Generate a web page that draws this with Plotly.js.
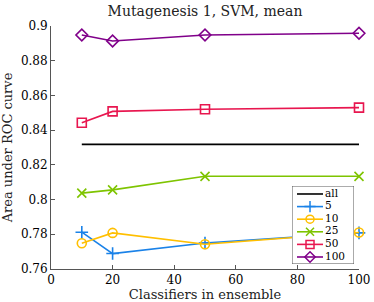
<!DOCTYPE html>
<html><head><meta charset="utf-8">
<script src="https://cdn.plot.ly/plotly-3.0.1.min.js"></script>
<style>html,body{margin:0;padding:0;background:#fff}#c{width:374px;height:302px}</style>
</head><body><div id="c"></div>
<script>
const classifiers = [10, 20, 50, 100];
const seriesNames = ['5', '10', '25', '50', '100'];
const s5   = [0.7812, 0.7689, 0.7750, 0.7808];
const s10  = [0.7748, 0.7808, 0.7743, 0.7810];
const s25  = [0.8037, 0.8056, 0.8134, 0.8134];
const s50  = [0.8443, 0.8508, 0.8520, 0.8530];
const s100 = [0.8948, 0.8914, 0.8948, 0.8958];
const allValue = 0.8318;
const allX = [10, 100];
const xTicks = [0, 20, 40, 60, 80, 100];
const yTicks = [0.76, 0.78, 0.8, 0.82, 0.84, 0.86, 0.88, 0.9];
const yTickText = ['0.76', '0.78', '0.8', '0.82', '0.84', '0.86', '0.88', '0.9'];

const colors = ['#1a82e8', '#ffbf00', '#7ec400', '#e8164f', '#80008a'];
const symbols = ['cross-thin-open', 'circle-open', 'x-thin-open', 'square-open', 'diamond-open'];
const values = [s5, s10, s25, s50, s100];
const FONT = '"DejaVu Serif", "Liberation Serif", serif';

const traces = [];
traces.push({x: allX, y: allX.map(() => allValue), mode: 'lines', line: {color: '#000', width: 1.8}, cliponaxis: false, showlegend: false, hoverinfo: 'skip'});
values.forEach((v, i) => {
  traces.push({x: classifiers, y: v, mode: 'lines+markers', cliponaxis: false, showlegend: false,
    line: {color: colors[i], width: 1.6},
    marker: {symbol: symbols[i], size: 9, color: colors[i], line: {color: colors[i], width: 1.6}}});
});

// custom legend in its own small subplot
const legendLabels = ['all'].concat(seriesNames);
const legendColors = ['#000'].concat(colors);
const legendSymbols = [null].concat(symbols);
const yTop = -0.635, yBot = 5.556;
traces.push({x: [0, 62, 62, 0, 0], y: [yBot, yBot, yTop, yTop, yBot], xaxis: 'x2', yaxis: 'y2', mode: 'lines', fill: 'toself', fillcolor: '#fff', line: {color: '#555', width: 1}, showlegend: false, hoverinfo: 'skip'});
legendLabels.forEach((lab, i) => {
  traces.push({x: [5, 31], y: [i, i], xaxis: 'x2', yaxis: 'y2', mode: 'lines', line: {color: legendColors[i], width: 1.6}, showlegend: false, hoverinfo: 'skip'});
  if (legendSymbols[i]) {
    traces.push({x: [18], y: [i], xaxis: 'x2', yaxis: 'y2', mode: 'markers', showlegend: false, hoverinfo: 'skip',
      marker: {symbol: legendSymbols[i], size: 8, color: legendColors[i], line: {color: legendColors[i], width: 1.5}}});
  }
});
traces.push({x: legendLabels.map(() => 33), y: legendLabels.map((_, i) => i), text: legendLabels, xaxis: 'x2', yaxis: 'y2', mode: 'text', textposition: 'middle right', textfont: {family: FONT, size: 10.5, color: '#000'}, showlegend: false, hoverinfo: 'skip'});

const axisCommon = {showgrid: false, zeroline: false, showline: true, linecolor: '#555', linewidth: 1, ticks: 'inside', ticklen: 4, tickcolor: '#555', tickfont: {family: FONT, size: 12, color: '#000'}};

const layout = {
  width: 374, height: 302,
  margin: {l: 51, r: 15, t: 26, b: 33},
  paper_bgcolor: '#fff', plot_bgcolor: 'rgba(0,0,0,0)',
  showlegend: false,
  title: {text: 'Mutagenesis 1, SVM, mean', font: {family: FONT, size: 14, color: '#222'}, x: 0.5, xref: 'paper', xanchor: 'center', y: 0.962, yanchor: 'middle'},
  xaxis: Object.assign({}, axisCommon, {range: [0, 100], tickvals: xTicks, ticklabelstandoff: 0,
    title: {text: 'Classifiers in ensemble', font: {family: FONT, size: 13, color: '#222'}, standoff: 4}}),
  yaxis: Object.assign({}, axisCommon, {range: [0.76, 0.9], tickvals: yTicks, ticktext: yTickText,
    title: {text: 'Area under ROC curve', font: {family: FONT, size: 13, color: '#222'}, standoff: 6}}),
  xaxis2: {domain: [0.7825, 0.9838], range: [0, 62], visible: false, fixedrange: true, anchor: 'y2'},
  yaxis2: {domain: [0.0206, 0.3416], range: [yBot, yTop], visible: false, fixedrange: true, anchor: 'x2'}
};

Plotly.newPlot('c', traces, layout, {staticPlot: true, displayModeBar: false});
</script></body></html>
